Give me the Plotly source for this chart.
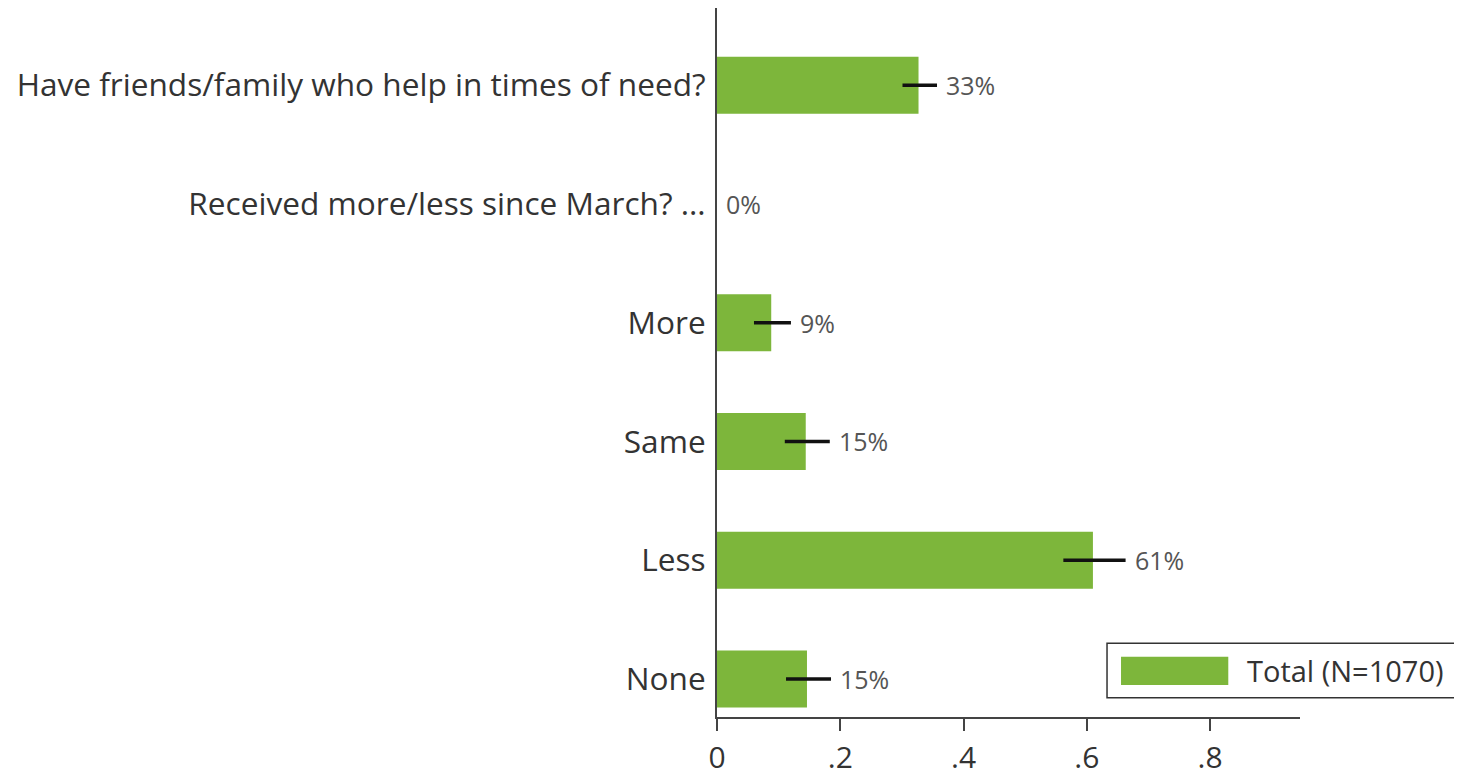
import plotly.graph_objects as go

categories = ["None", "Less", "Same", "More", "Received more/less since March? ...",
              "Have friends/family who help in times of need?"]
values = [0.146, 0.610, 0.144, 0.088, 0.0, 0.327]
ci_low = [0.112, 0.562, 0.110, 0.060, 0.0, 0.301]
ci_high = [0.185, 0.663, 0.183, 0.120, 0.0, 0.357]
value_labels = ["15%", "61%", "15%", "9%", "0%", "33%"]
tick_vals = [0, 0.2, 0.4, 0.6, 0.8]
tick_text = ["0", ".2", ".4", ".6", ".8"]
series_name = "Total (N=1070)"

GREEN = "#7db63b"
FONT = "Open Sans"

ypos = list(range(len(categories)))
has_err = [v > 0 for v in values]

fig = go.Figure()
fig.add_trace(go.Bar(
    x=values, y=ypos, orientation="h", width=0.48,
    marker=dict(color=GREEN, line=dict(width=0)),
    name=series_name, showlegend=False,
    error_x=dict(type="data", symmetric=False,
                 array=[h - v if e else 0 for h, v, e in zip(ci_high, values, has_err)],
                 arrayminus=[v - l if e else 0 for l, v, e in zip(ci_low, values, has_err)],
                 color="#111111", thickness=3.5, width=0),
))

for y, hi, lab in zip(ypos, ci_high, value_labels):
    fig.add_annotation(x=hi, y=y, text=lab, showarrow=False, xanchor="left",
                       xshift=7, font=dict(family=FONT, size=25, color="#555555"))

# legend box
fig.add_shape(type="rect", xref="paper", yref="paper", x0=0.669, x1=1.277, y0=0.027, y1=0.104,
              line=dict(color="#333333", width=1.5), fillcolor="white", layer="above")
fig.add_shape(type="rect", xref="paper", yref="paper", x0=0.693, x1=0.877, y0=0.045, y1=0.085,
              line=dict(width=0), fillcolor=GREEN, layer="above")
fig.add_annotation(xref="paper", yref="paper", x=0.906, y=0.0655, text=series_name,
                   showarrow=False, xanchor="left", yanchor="middle",
                   font=dict(family=FONT, size=29, color="#333333"))

fig.update_layout(
    width=1454, height=769,
    margin=dict(l=709, r=162, t=0, b=60),
    paper_bgcolor="white", plot_bgcolor="white",
    font=dict(family=FONT, size=32, color="#333333"),
    showlegend=False,
    xaxis=dict(range=[0, 0.946], tickvals=tick_vals, ticktext=tick_text,
               showgrid=False, zeroline=False, showline=True, linecolor="#444444",
               linewidth=2, ticks="outside", ticklen=12, tickwidth=2, tickcolor="#444444",
               ticklabelstandoff=1, automargin=False,
               tickfont=dict(size=30, color="#333333")),
    yaxis=dict(range=[-0.32, 5.65], tickvals=ypos, ticktext=categories,
               showgrid=False, zeroline=False, showline=True, linecolor="#444444",
               linewidth=2, ticks="", ticklabelstandoff=3, automargin=False,
               tickfont=dict(size=31.6, color="#333333")),
)

fig.write_html("out.html")
